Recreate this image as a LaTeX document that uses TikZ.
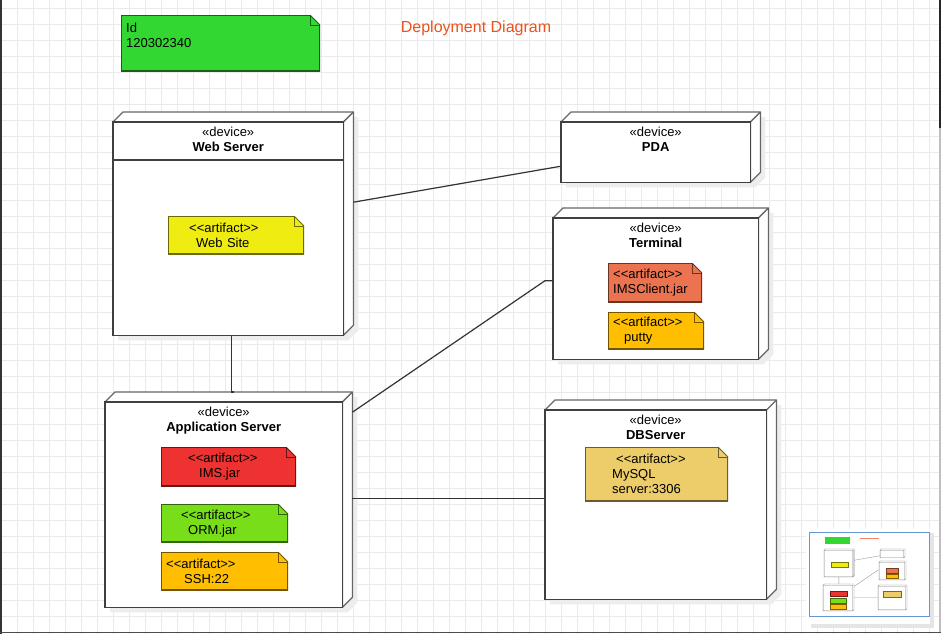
\documentclass[tikz,border=0pt]{standalone}
\usepackage{fontspec}
\setmainfont{Liberation Sans}[Ligatures=TeXOff]
\usepackage{tikz}
\usetikzlibrary{positioning}

\definecolor{gridcol}{RGB}{234,234,234}
\definecolor{titlecol}{RGB}{234,82,30}
\definecolor{idcol}{RGB}{50,215,50}
\definecolor{sitecol}{RGB}{238,236,17}
\definecolor{clientcol}{RGB}{236,115,80}
\definecolor{puttycol}{RGB}{255,190,0}
\definecolor{imscol}{RGB}{238,50,50}
\definecolor{ormcol}{RGB}{120,222,25}
\definecolor{mysqlcol}{RGB}{237,204,106}
\definecolor{mapblue}{RGB}{100,150,210}
\newcommand{\diafont}{\fontsize{13}{15}\selectfont}

\begin{document}
\begin{tikzpicture}[x=1pt,y=-1pt,
    conn/.style={black!80,line width=1.2pt},
    devtext/.style={inner sep=0pt,align=center,font=\diafont},
    device/.style={anchor=north west,inner sep=0pt,
      append after command={\pgfextra{\let\devnode\tikzlastnode
        \fill[black!7] ([shift={(5,5)}]\devnode.south west) -- ([shift={(5,5)}]\devnode.north west) -- ([shift={(15,-5)}]\devnode.north west) -- ([shift={(15,-5)}]\devnode.north east) -- ([shift={(15,-5)}]\devnode.south east) -- ([shift={(5,5)}]\devnode.south east) -- cycle;
        \filldraw[fill=white,draw=black!60,line width=1.3pt,line join=round] (\devnode.north west) -- ++(10,-10) -- ([shift={(10,-10)}]\devnode.north east) -- ([shift={(10,-10)}]\devnode.south east) -- (\devnode.south east) -- (\devnode.north east) -- cycle;
        \draw[black!60,line width=1.3pt] (\devnode.north east) -- ++(10,-10);
        \filldraw[fill=white,draw=black!75,line width=1.6pt] (\devnode.south west) rectangle (\devnode.north east);
        \coordinate (\devnode-top) at ([shift={(10,-10)}]\devnode.north);
        \coordinate (\devnode-back) at ([shift={(10,-10)}]\devnode.east);
      }}},
    notebox/.style={fill=#1,anchor=north west,inner xsep=5pt,inner ysep=0pt,align=left,font=\diafont,
      path picture={
        \fill[white] ([xshift=-10pt]path picture bounding box.north east) -- (path picture bounding box.north east) -- ([yshift=-10pt]path picture bounding box.north east) -- cycle;
        \draw[#1!45!black,line width=2pt] ([xshift=-10pt]path picture bounding box.north east) -- (path picture bounding box.north west) -- (path picture bounding box.south west) -- (path picture bounding box.south east) -- ([yshift=-10pt]path picture bounding box.north east);
        \draw[#1!45!black,line width=1pt] ([xshift=-10pt]path picture bounding box.north east) -- ([yshift=-10pt]path picture bounding box.north east);
        \draw[#1!45!black,line width=1pt] ([xshift=-10pt]path picture bounding box.north east) |- ([yshift=-10pt]path picture bounding box.north east);
      }}]

    \useasboundingbox (0,0) rectangle (941,634);
    \fill[white] (0,0) rectangle (941,634);

    % grid
    \foreach \gx in {1,17,...,937}
        \draw[gridcol,line width=0.8pt] (\gx,0) -- (\gx,634);
    \foreach \gy in {8,24,...,632}
        \draw[gridcol,line width=0.8pt] (0,\gy) -- (941,\gy);

    % window frame
    \fill[black!80] (0,0) rectangle (1.5,634);
    \fill[black!70] (0,631.5) rectangle (941,633);
    \fill[black!85] (938.5,0) rectangle (941,128);
    \fill[black!25] (938.5,128) rectangle (941,631.5);

    \node[notebox=idcol,text width=189pt,minimum height=56pt] (id) at (121,15) {Id\\120302340\\\mbox{}};
    \node[font=\fontsize{16}{19}\selectfont,text=titlecol,anchor=base] (title) at (476,33) {Deployment Diagram};

    % devices
    \node[device,minimum width=230pt,minimum height=213pt] (web) at (113,122) {};
    \node[devtext,below=5pt of web.north] (webtxt) {«device»\\\textbf{Web Server}};
    \draw[black!75,line width=1.6pt] ([yshift=-38pt]web.north west) -- ([yshift=-38pt]web.north east);

    \node[device,minimum width=189pt,minimum height=60pt] (pda) at (561,122) {};
    \node[devtext,below=5pt of pda.north] (pdatxt) {«device»\\\textbf{PDA}};

    \node[device,minimum width=205pt,minimum height=141pt] (term) at (553,218) {};
    \node[devtext,below=5pt of term.north] (termtxt) {«device»\\\textbf{Terminal}};

    \node[device,minimum width=237pt,minimum height=205pt] (app) at (105,402) {};
    \node[devtext,below=5pt of app.north] (apptxt) {«device»\\\textbf{Application Server}};

    \node[device,minimum width=221pt,minimum height=189pt] (db) at (545,410) {};
    \node[devtext,below=5pt of db.north] (dbtxt) {«device»\\\textbf{DBServer}};

    % artifacts
    \node[notebox=sitecol,text width=126pt,minimum height=38pt] (site) at (168,216) {\hspace*{16pt}<<artifact>>\\\hspace*{23pt}Web Site};
    \node[notebox=clientcol,text width=84pt,minimum height=39pt] (client) at (608,263) {<<artifact>>\\IMSClient.jar};
    \node[notebox=puttycol,text width=86pt,minimum height=37pt] (putty) at (608,312) {<<artifact>>\\\hspace*{11pt}putty};
    \node[notebox=imscol,text width=125pt,minimum height=39pt] (ims) at (161,447) {\hspace*{22pt}<<artifact>>\\\hspace*{33pt}IMS.jar};
    \node[notebox=ormcol,text width=117pt,minimum height=38pt] (orm) at (161,504) {\hspace*{15pt}<<artifact>>\\\hspace*{22pt}ORM.jar};
    \node[notebox=puttycol,text width=117pt,minimum height=38pt] (ssh) at (161,552) {<<artifact>>\\\hspace*{18pt}SSH:22};
    \node[notebox=mysqlcol,text width=133pt,minimum height=54pt] (mysql) at (585,447) {\hspace*{26pt}<<artifact>>\\\hspace*{22pt}MySQL\\\hspace*{22pt}server:3306};

    % links
    \draw[conn] ([yshift=16.5pt]web-back) -- ([yshift=-14pt]pda.west);
    \draw[conn] ([xshift=3pt]web.south) |- (app-top);
    \draw[conn] ([yshift=82.5pt]app-back) -- ([xshift=-8pt,yshift=8pt]term.west) -- ([yshift=8pt]term.west);
    \draw[conn] ([yshift=-3.5pt]app-back) -- ([yshift=6.5pt]db.west);

    % overview
    \fill[black!10] (811,533) rectangle (934,628);
    \fill[white] (806,529) rectangle (930,624);
    \draw[mapblue,line width=1pt] (809,532) rectangle (929,616);
    \begin{scope}[shift={(810,535)},scale=0.125,line width=0.4pt]
        \fill[idcol] (121,15) rectangle (320,71);
        \draw[titlecol!70] (401,27) -- (550,27);
        \foreach \xa/\ya/\xb/\yb in {113/122/343/335,561/122/750/182,553/218/758/359,105/402/342/607,545/410/766/599}
            \draw[black!50] (\xa,\ya) rectangle (\xb,\yb) (\xa,\ya) -- ++(10,-10) -| ([shift={(10,-10)}]\xb,\yb) -- (\xb,\yb);
        \foreach \xa/\ya/\xb/\yb/\col in {168/216/304/254/sitecol,608/263/702/302/clientcol,608/312/704/349/puttycol,161/447/296/486/imscol,161/504/288/542/ormcol,161/552/288/590/puttycol,585/447/728/501/mysqlcol}
            \filldraw[fill=\col,draw=\col!50!black] (\xa,\ya) rectangle (\xb,\yb);
        \draw[black!40] (353,202) -- (560,166) (231,335) -- (231,392) (352,412) -- (545,280) (352,498) -- (545,498);
    \end{scope}
\end{tikzpicture}
\end{document}
